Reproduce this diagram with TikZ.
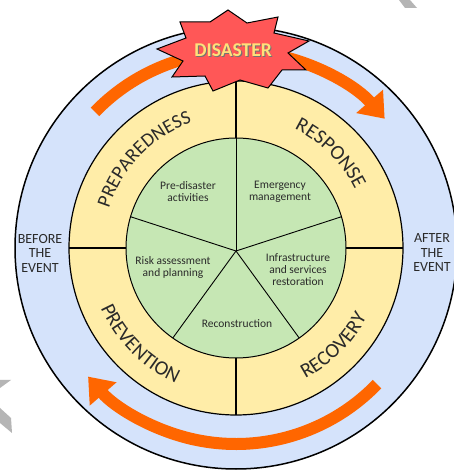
\documentclass[tikz,border=0pt]{standalone}
\usepackage{fontspec}
\setmainfont{Carlito}
\usetikzlibrary{arrows.meta,decorations.text}

\definecolor{ringblue}{HTML}{D5E3FB}
\definecolor{ringyellow}{HTML}{FFEDA8}
\definecolor{coregreen}{HTML}{C6E7B4}
\definecolor{flowcol}{HTML}{FF6600}
\definecolor{starred}{HTML}{FF5757}
\definecolor{staryellow}{HTML}{FFE07A}
\definecolor{inktext}{HTML}{2A2A2A}
\definecolor{markgray}{HTML}{B5B5B5}

\newcommand\ringfont{\fontsize{20.5}{24}\selectfont\color{inktext}}
\newcommand\ringfontsm{\fontsize{19.5}{24}\selectfont\color{inktext}}
\newcommand\corefont{\fontsize{11.5}{12}\selectfont}
\newcommand\sidefont{\fontsize{14}{14.5}\selectfont}

\tikzset{
  ringline/.style={draw=black, line width=1.2pt},
  divider/.style={draw=black, line width=1.1pt},
  spoke/.style={draw=black, line width=0.9pt},
  flow/.style={draw=flowcol, line width=12pt},
  flowhead/.style={-{Triangle[length=23pt,width=34pt]}},
  coretext/.style={align=center, text=inktext, font=\corefont, inner sep=0pt},
  sidetext/.style={align=center, text=inktext, font=\sidefont, inner sep=0pt},
  arclabel/.style={decorate, decoration={text along path, text align=center, text={|\ringfont|#1}}},
  arclabelsm/.style={decorate, decoration={text along path, text align=center, text={|\ringfontsm|#1}}}
}

\begin{document}
\begin{tikzpicture}[x=1pt,y=1pt]
\useasboundingbox (0,0) rectangle (454,472);
\clip (0,0) rectangle (454,472);
\fill[white] (0,0) rectangle (454,472);

% grey corner fragments
\fill[markgray] (399,472) -- (410,472) -- (417,464) -- (405,464) -- cycle;
\fill[markgray] (0,64) -- (11,54) -- (12,39) -- (0,49) -- cycle;
\fill[markgray] (0,92) -- (11,92) -- (0,84) -- cycle;

\begin{scope}[shift={(236,224)}]
  % rings
  \draw[line width=1.5pt, fill=ringblue] (0,0) circle[radius=221pt];
  \draw[ringline, fill=ringyellow] (0,0) circle[radius=167pt];
  % quadrant dividers
  \draw[divider] (0,-167) -- (0,167);
  \draw[divider] (-167,0) -- (167,0);
  % core disc with five sectors
  \fill[coregreen] (0,0) circle[radius=110pt];
  \begin{scope}
    \clip (0,0) circle[radius=110pt];
    \foreach \a in {90,162,234,306,18}
      \draw[spoke] (0,-3) -- ++(\a:130pt);
  \end{scope}
  \draw[ringline, line width=1pt] (0,0) circle[radius=110pt];

  % phase labels along the yellow ring
  \path[arclabelsm=PREPAREDNESS] (196:133pt) arc[start angle=196, end angle=76, radius=133pt];
  \path[arclabel=RESPONSE] (105:132.5pt) arc[start angle=105, end angle=-15, radius=132.5pt];
  \path[arclabel=PREVENTION] (165:148pt) arc[start angle=165, end angle=285, radius=148pt];
  \path[arclabel=RECOVERY] (255:148pt) arc[start angle=255, end angle=375, radius=148pt];

  % cycle arrows in the blue ring
  \draw[flow] (136:196pt) arc[start angle=136, end angle=104, radius=196pt];
  \draw[flow, flowhead] (78:197pt) arc[start angle=78, end angle=41, radius=197pt];
  \draw[flow, flowhead] (316:196pt) arc[start angle=316, end angle=221, radius=196pt];
\end{scope}

% core sector texts
\node[coretext] (pre) at (188,280) {Pre-disaster\\activities};
\node[coretext] (emg) at (280,280) {Emergency\\management};
\node[coretext] (risk) at (173,205) {Risk assessment\\and planning};
\node[coretext] (infra) at (298,202) {Infrastructure\\and services\\restoration};
\node[coretext] (recon) at (237,148) {Reconstruction};

% side texts
\node[sidetext] (before) at (40,219) {BEFORE\\THE\\EVENT};
\node[sidetext] (after) at (432,219) {AFTER\\THE\\EVENT};

% disaster burst
\draw[fill=starred, line width=1pt, line join=miter]
  (228,462) -- (247,449) -- (278,455) -- (274,439) -- (309,431) -- (288,419)
  -- (306,402) -- (282,402) -- (268,384) -- (240,392) -- (213,381) -- (205,396)
  -- (172,395) -- (183,411) -- (157,423) -- (186,434) -- (180,450) -- (210,450)
  -- cycle;
\node[text=black!55, font=\bfseries\fontsize{19.5}{19.5}\selectfont] (dshadow) at (234.2,420.8) {DISASTER};
\node[text=staryellow, font=\bfseries\fontsize{19.5}{19.5}\selectfont] (disaster) at (233,422) {DISASTER};
\end{tikzpicture}
\end{document}
